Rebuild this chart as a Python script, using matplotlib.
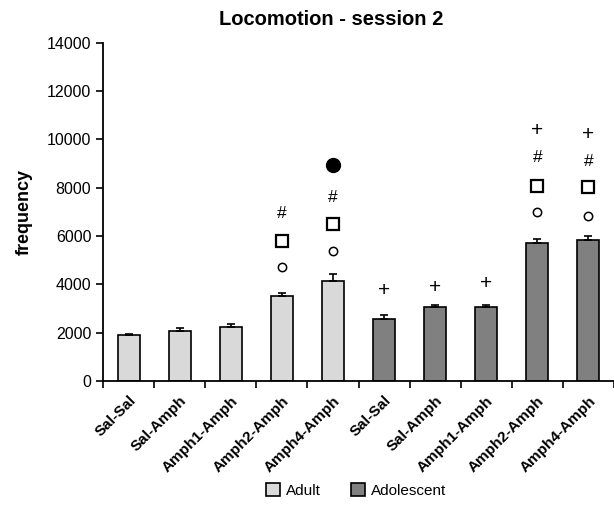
import matplotlib
matplotlib.use("Agg")
import matplotlib.pyplot as plt
import numpy as np

plt.rcParams['font.family'] = ['Liberation Sans', 'DejaVu Sans']

# dati
gruppi = ["Sal-Sal", "Sal-Amph", "Amph1-Amph", "Amph2-Amph", "Amph4-Amph",
          "Sal-Sal", "Sal-Amph", "Amph1-Amph", "Amph2-Amph", "Amph4-Amph"]
adulti = [1900, 2070, 2240, 3520, 4120]
adolescenti = [2585, 3065, 3065, 5705, 5845]
err_adulti = [60, 110, 110, 130, 320]
err_adolescenti = [130, 95, 60, 180, 150]

# simboli di significatività: (indice barra, valore y)
simboli_hash = [(3, 6915), (4, 7600), (8, 9250), (9, 9070)]
simboli_plus = [(5, 3725), (6, 3850), (7, 4015), (8, 10380), (9, 10215)]
simboli_quadrato = [(3, 5786), (4, 6475), (8, 8080), (9, 8040)]
simboli_cerchio = [(3, 4700), (4, 5375), (8, 7000), (9, 6845)]
simboli_pieno = [(4, 8950)]

fig = plt.figure(figsize=(6.14, 5.23), dpi=100)
ax = fig.add_axes([0.168, 0.2715, 0.832, 0.6472])

x_ad = np.arange(5)
x_adol = np.arange(5, 10)
larghezza = 0.43

ax.bar(x_ad, adulti, width=larghezza, color='#d9d9d9', edgecolor='black',
       linewidth=1.2, label='Adult', zorder=2)
ax.bar(x_adol, adolescenti, width=larghezza, color='#808080', edgecolor='black',
       linewidth=1.2, label='Adolescent', zorder=2)
ax.errorbar(x_ad, adulti, yerr=[np.zeros(5), err_adulti], fmt='none',
            ecolor='black', elinewidth=1.2, capsize=3, capthick=1.2, zorder=3)
ax.errorbar(x_adol, adolescenti, yerr=[np.zeros(5), err_adolescenti], fmt='none',
            ecolor='black', elinewidth=1.2, capsize=3, capthick=1.2, zorder=3)

for i, y in simboli_hash:
    ax.text(i, y, '#', ha='center', va='center', fontsize=12.5)
for i, y in simboli_plus:
    ax.text(i, y, '+', ha='center', va='center', fontsize=15)
for i, y in simboli_quadrato:
    ax.plot(i, y, marker='s', ms=9, mfc='white', mec='black', mew=1.6)
for i, y in simboli_cerchio:
    ax.plot(i, y, marker='o', ms=6, mfc='white', mec='black', mew=1.1)
for i, y in simboli_pieno:
    ax.plot(i, y, marker='o', ms=10, mfc='black', mec='black')

ax.set_xlim(-0.5, 9.5)
ax.set_ylim(0, 14000)
ax.set_yticks(np.arange(0, 14001, 2000))
ax.tick_params(axis='y', labelsize=11.5, length=5, width=1.2)
ax.set_xticks(np.arange(-0.5, 10, 1))
ax.set_xticklabels([])
ax.tick_params(axis='x', length=5, width=1.2, direction='out')
ax.set_xticks(np.arange(10), minor=True)
ax.set_xticklabels(gruppi, minor=True, rotation=45, ha='right',
                   rotation_mode='anchor', fontsize=11, fontweight='bold')
ax.tick_params(axis='x', which='minor', length=0, pad=9)

for lato in ['top', 'right']:
    ax.spines[lato].set_visible(False)
for lato in ['left', 'bottom']:
    ax.spines[lato].set_linewidth(1.3)

ax.set_ylabel('frequency', fontsize=13, fontweight='bold', labelpad=10)
fig.text(0.54, 0.962, 'Locomotion - session 2', ha='center', va='center',
         fontsize=14.5, fontweight='bold')

fig.legend(loc='center', bbox_to_anchor=(0.58, 0.062), ncol=2, frameon=False,
           fontsize=11, handlelength=0.9, handleheight=0.9, columnspacing=2.0,
           handletextpad=0.4)

fig.savefig('out.png', dpi=100)
